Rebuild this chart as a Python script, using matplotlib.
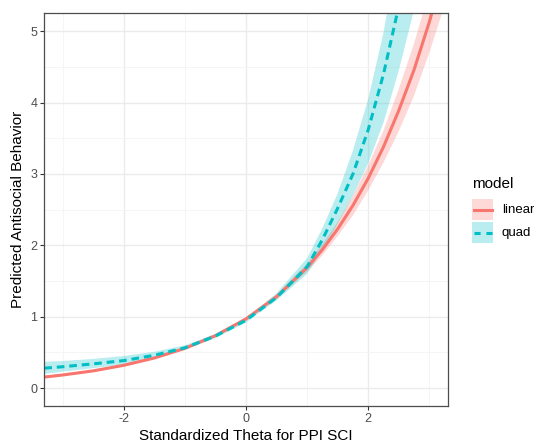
import matplotlib
matplotlib.use("Agg")
import matplotlib.pyplot as plt
from matplotlib.patches import Rectangle
from matplotlib.lines import Line2D

plt.rcParams['axes.unicode_minus'] = False

# values
theta = [-3.3, -3.0, -2.5, -2.0, -1.5, -1.0, -0.5, 0.0, 0.5, 1.0,
         1.25, 1.5, 1.75, 2.0, 2.25, 2.5, 2.75, 3.0, 3.3]

linear_fit = [0.155, 0.184, 0.242, 0.32, 0.422, 0.557, 0.735, 0.97, 1.28, 1.69,
              1.94, 2.23, 2.56, 2.94, 3.38, 3.89, 4.46, 5.13, 6.06]
linear_lo = [0.14, 0.17, 0.23, 0.305, 0.41, 0.54, 0.72, 0.95, 1.25, 1.63,
             1.86, 2.13, 2.42, 2.77, 3.16, 3.6, 4.1, 4.7, 5.5]
linear_hi = [0.17, 0.2, 0.255, 0.335, 0.435, 0.575, 0.75, 0.99, 1.31, 1.75,
             2.02, 2.33, 2.70, 3.12, 3.61, 4.19, 4.83, 5.56, 6.6]

quad_fit = [0.28, 0.30, 0.34, 0.386, 0.46, 0.565, 0.73, 0.95, 1.27, 1.70,
            2.08, 2.52, 3.0, 3.62, 4.4, 5.35, 6.6, 8.2, 10.5]
quad_lo = [0.20, 0.23, 0.28, 0.33, 0.42, 0.54, 0.70, 0.92, 1.23, 1.60,
           1.93, 2.30, 2.70, 3.15, 3.72, 4.45, 5.3, 6.3, 7.9]
quad_hi = [0.37, 0.38, 0.41, 0.45, 0.51, 0.60, 0.76, 0.98, 1.33, 1.82,
           2.24, 2.73, 3.33, 4.05, 4.98, 6.2, 7.8, 9.9, 13.0]

models = ["linear", "quad"]
colors = ["#F8766D", "#00BFC4"]

W, H = 534, 446
fig = plt.figure(figsize=(W / 100, H / 100), dpi=100)
ax = fig.add_axes([44.3 / W, 1 - 406 / H, (447.7 - 44.3) / W, (406 - 13.3) / H])

# ======================== ribbons + lines
ax.fill_between(theta, linear_lo, linear_hi, color=colors[0], alpha=0.28, lw=0)
ax.fill_between(theta, quad_lo, quad_hi, color=colors[1], alpha=0.27, lw=0)
ax.plot(theta, linear_fit, color=colors[0], lw=2.2, solid_capstyle="butt")
ax.plot(theta, quad_fit, color=colors[1], lw=2.2, dashes=(2.5, 1.6))

ax.set_xlim(-3.3, 3.3)
ax.set_ylim(-0.25, 5.25)
ax.set_xticks([-2, 0, 2])
ax.set_xticks([-3, -1, 1, 3], minor=True)
ax.set_yticks([0, 1, 2, 3, 4, 5])
ax.set_yticks([0.5, 1.5, 2.5, 3.5, 4.5], minor=True)
ax.grid(which="major", color="#EBEBEB", lw=1.0, zorder=0)
ax.grid(which="minor", color="#F4F4F4", lw=0.6, zorder=0)
ax.set_axisbelow(True)
for s in ax.spines.values():
    s.set_color("#4D4D4D")
    s.set_linewidth(0.9)
ax.tick_params(which="major", length=3, width=0.8, color="#333333",
               labelcolor="#4D4D4D", labelsize=9, pad=2)
ax.tick_params(which="minor", length=0)
for lab in ax.get_xticklabels() + ax.get_yticklabels():
    lab.set_family("Liberation Sans")

ax.set_xlabel("Standardized Theta for PPI SCI", family="Liberation Sans",
              fontsize=11, labelpad=3)
ax.set_ylabel("Predicted Antisocial Behavior", family="Liberation Sans",
              fontsize=11, labelpad=4)

# ======================== legend
fig.text(471.7 / W, 1 - 184 / H, "model", family="Liberation Sans",
         fontsize=11, va="center", ha="left")
key_tops = [199.3, 222.3]
for i in range(2):
    y0 = key_tops[i]
    fig.add_artist(Rectangle((472.3 / W, 1 - (y0 + 20.6) / H), 21 / W, 20.6 / H,
                             transform=fig.transFigure, facecolor=colors[i],
                             alpha=0.27, lw=0))
    yc = 1 - (y0 + 10.3) / H
    if i == 0:
        ln = Line2D([474 / W, 492 / W], [yc, yc], transform=fig.transFigure,
                    color=colors[i], lw=2.2)
    else:
        ln = Line2D([474 / W, 492 / W], [yc, yc], transform=fig.transFigure,
                    color=colors[i], lw=2.2, dashes=(2.0, 1.9))
    fig.add_artist(ln)
    fig.text(501.7 / W, yc, models[i], family="Liberation Sans", fontsize=9.5,
             va="center", ha="left")

fig.savefig("out.png", dpi=100)
